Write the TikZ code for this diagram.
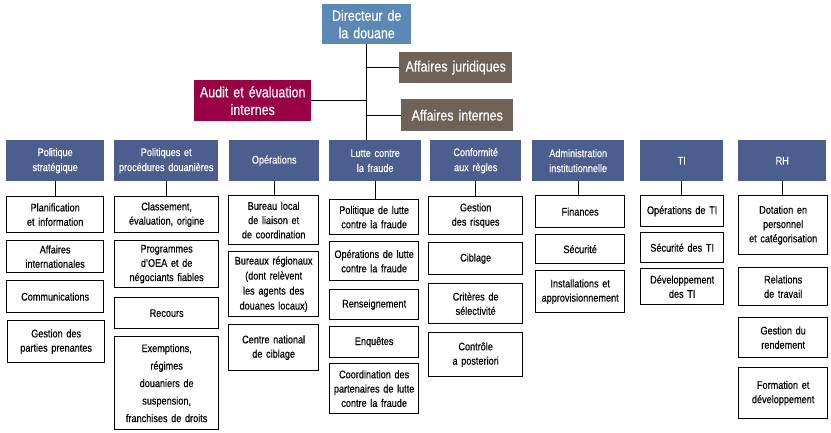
\documentclass[tikz,border=0pt]{standalone}
\usepackage{fontspec}
\setmainfont{Liberation Sans}[FakeStretch=0.83,FakeBold=0.35]
\definecolor{deptblue}{HTML}{4C5E8E}
\definecolor{headblue}{HTML}{5B88B5}
\definecolor{auditred}{HTML}{990046}
\definecolor{affbrown}{HTML}{6E6259}

% \obox[style]{name}{x}{y}{width}{height}{text}  -- box placed by its top-left corner
\newcommand\obox[7][kid]{%
  \node[#1,anchor=north west,minimum width=#5pt,text width=#5pt,minimum height=#6pt] (#2) at (#3,#4) {#7};}

\begin{document}
\begin{tikzpicture}[x=1pt,y=-1pt,
  base/.style={inner xsep=0pt,inner ysep=1pt,align=center},
  kid/.style={base,draw=black,line width=1.3pt,fill=white,
    font=\fontsize{11}{14.3}\selectfont},
  dept/.style={base,fill=deptblue,text=white,
    font=\fontsize{11}{15}\selectfont},
  top/.style={base,text=white,font=\fontsize{15}{17.5}\selectfont},
  link/.style={draw=black,line width=1.3pt}]
\useasboundingbox (0,0) rectangle (831,433);

% direction
\obox[top,fill=headblue]{dir}{322}{4}{89}{40}{Directeur de\\la douane}
\obox[top,fill=affbrown]{jur}{399}{52}{113}{31}{Affaires juridiques}
\obox[top,fill=auditred]{aud}{194}{80}{117}{41}{Audit et évaluation\\internes}
\obox[top,fill=affbrown]{int}{401}{99}{112}{32}{Affaires internes}

% departments
\obox[dept]{hd1}{6}{140}{98}{41}{Politique\\stratégique}
\obox[dept]{hd2}{114}{140}{104}{41}{Politiques et\\procédures douanières}
\obox[dept]{hd3}{229}{140}{90}{41}{Opérations}
\obox[dept]{hd4}{329}{140}{92}{41}{Lutte contre\\la fraude}
\obox[dept]{hd5}{430}{140}{91}{41}{Conformité\\aux règles}
\obox[dept]{hd6}{532}{140}{92}{41}{Administration\\institutionnelle}
\obox[dept]{hd7}{640}{140}{83}{41}{TI}
\obox[dept]{hd8}{738}{140}{88}{41}{RH}

% Politique stratégique
\obox{a1}{6}{196}{97}{36}{Planification\\et information}
\obox{b1}{6}{240}{97}{32}{Affaires\\internationales}
\obox{c1}{6}{280}{97}{32}{Communications}
\obox{d1}{7}{320}{97}{42}{Gestion des\\parties prenantes}

% Politiques et procédures douanières
\obox{a2}{114}{196}{104}{36}{Classement,\\évaluation, origine}
\obox{b2}{114}{240}{104}{47}{Programmes\\d’OEA et de\\négociants fiables}
\obox{c2}{114}{297}{104}{31}{Recours}
\obox[kid,font=\fontsize{11}{17.5}\selectfont]{d2}{114}{336}{104}{93}{Exemptions,\\régimes\\douaniers de\\suspension,\\franchises de droits}

% Opérations
\obox{a3}{228}{195}{90}{49}{Bureau local\\de liaison et\\de coordination}
\obox[kid,font=\fontsize{11}{15}\selectfont]{b3}{228}{251}{90}{65}{Bureaux régionaux\\(dont relèvent\\les agents des\\douanes locaux)}
\obox{c3}{228}{324}{90}{46}{Centre national\\de ciblage}

% Lutte contre la fraude
\obox{a4}{329}{199}{89}{35}{Politique de lutte\\contre la fraude}
\obox{b4}{329}{241}{89}{39}{Opérations de lutte\\contre la fraude}
\obox{c4}{329}{289}{89}{30}{Renseignement}
\obox{d4}{329}{326}{89}{31}{Enquêtes}
\obox{e4}{329}{363}{89}{50}{Coordination des\\partenaires de lutte\\contre la fraude}

% Conformité aux règles
\obox{a5}{428}{196}{94}{38}{Gestion\\des risques}
\obox{b5}{428}{242}{94}{32}{Ciblage}
\obox{c5}{428}{283}{94}{40}{Critères de\\sélectivité}
\obox{d5}{428}{332}{94}{44}{Contrôle\\a posteriori}

% Administration institutionnelle
\obox{a6}{535}{195}{89}{32}{Finances}
\obox{b6}{535}{234}{89}{29}{Sécurité}
\obox{c6}{535}{270}{89}{42}{Installations et\\approvisionnement}

% TI
\obox{a7}{640}{195}{83}{31}{Opérations de TI}
\obox{b7}{640}{232}{83}{30}{Sécurité des TI}
\obox{c7}{640}{268}{83}{36}{Développement\\des TI}

% RH
\obox{a8}{738}{195}{89}{59}{Dotation en\\personnel\\et catégorisation}
\obox{b8}{738}{267}{89}{38}{Relations\\de travail}
\obox{c8}{738}{317}{89}{40}{Gestion du\\rendement}
\obox{d8}{738}{367}{89}{51}{Formation et\\développement}

% connectors
\draw[link] (dir.south) -- (dir.south |- hd4.north);
\draw[link] (jur.west) -- (jur.west -| dir.south);
\draw[link] (int.west) -- (int.west -| dir.south);
\draw[link] (aud.east) -- (aud.east -| dir.south);
\foreach \i in {1,...,8}
  \draw[link] (hd\i.south) -- (hd\i.south |- a\i.north);
\end{tikzpicture}
\end{document}
